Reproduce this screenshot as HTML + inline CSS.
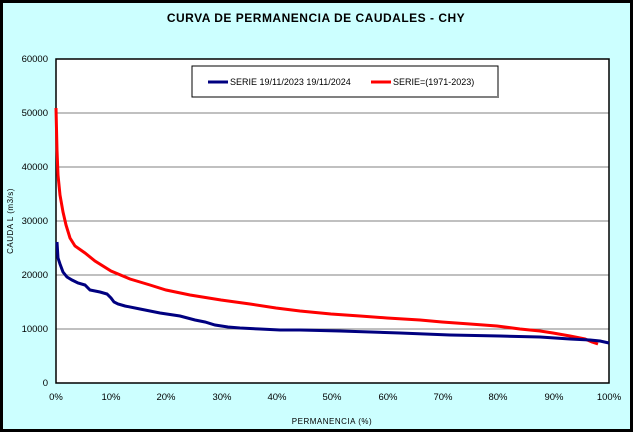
<!DOCTYPE html>
<html><head><style>
body{margin:0;background:#fff}
svg{display:block;font-family:"Liberation Sans",sans-serif}
</style></head><body>
<svg width="633" height="432" viewBox="0 0 633 432">
<rect x="1.5" y="1.5" width="630" height="429" fill="#CCFFFF" stroke="#000" stroke-width="3"/>
<text x="316" y="22" font-size="12" font-weight="bold" text-anchor="middle" letter-spacing="0.5">CURVA DE PERMANENCIA DE CAUDALES - CHY</text>
<rect x="56" y="59" width="553" height="324" fill="#fff"/>
<g stroke="#808080" stroke-width="1">
<line x1="56" y1="113" x2="609" y2="113"/><line x1="56" y1="167" x2="609" y2="167"/>
<line x1="56" y1="221" x2="609" y2="221"/><line x1="56" y1="275" x2="609" y2="275"/>
<line x1="56" y1="329" x2="609" y2="329"/>
</g>
<rect x="56" y="59" width="553" height="324" fill="none" stroke="#000" stroke-width="1.5"/>
<g font-size="9.5" text-anchor="end">
<text x="48" y="62">60000</text><text x="48" y="116">50000</text><text x="48" y="170">40000</text>
<text x="48" y="224">30000</text><text x="48" y="278">20000</text><text x="48" y="332">10000</text><text x="48" y="386">0</text>
</g>
<g font-size="9.5" text-anchor="middle">
<text x="56" y="400">0%</text><text x="111" y="400">10%</text><text x="166" y="400">20%</text><text x="222" y="400">30%</text>
<text x="277" y="400">40%</text><text x="332" y="400">50%</text><text x="388" y="400">60%</text><text x="443" y="400">70%</text>
<text x="498" y="400">80%</text><text x="554" y="400">90%</text><text x="609" y="400">100%</text>
</g>
<text x="332" y="424" font-size="8" text-anchor="middle" letter-spacing="0.5">PERMANENCIA (%)</text>
<text transform="translate(13,221) rotate(-90)" font-size="8" text-anchor="middle" letter-spacing="0.5">CAUDA L (m3/s)</text>
<rect x="192" y="66" width="306" height="31" fill="#fff" stroke="#000"/>
<rect x="194" y="96" width="305" height="2" fill="#808080"/>
<line x1="208" y1="82" x2="228" y2="82" stroke="#000080" stroke-width="3"/>
<text x="230" y="85" font-size="9">SERIE 19/11/2023 19/11/2024</text>
<line x1="371" y1="82" x2="391" y2="82" stroke="#ff0000" stroke-width="3"/>
<text x="393" y="85" font-size="9">SERIE=(1971-2023)</text>
<polyline fill="none" stroke="#ff0000" stroke-width="3" points="56,108 57,150 58,175 60,195 63,212 66,225 70,238 75,246 85,253 95,261 111,271 130,279 150,285 166,290 190,295 221,300 250,304 276,308 300,311 331,314 360,316 387,318 420,320 442,322 470,324 497,326 520,329 540,331 553,333 570,336 585,339 592,342 598,344"/>
<polyline fill="none" stroke="#000080" stroke-width="3" points="57,242 58,258 60,264 63,272 67,277 72,280 78,283 85,285 90,290 100,292 107,294 111,298 114,302 118,304 125,306 140,309 160,313 180,316 195,320 205,322 215,325 228,327 240,328 260,329 280,330 300,330 340,331 400,333 450,335 500,336 540,337 570,339 590,340 600,341 609,343"/>
</svg>
</body></html>
